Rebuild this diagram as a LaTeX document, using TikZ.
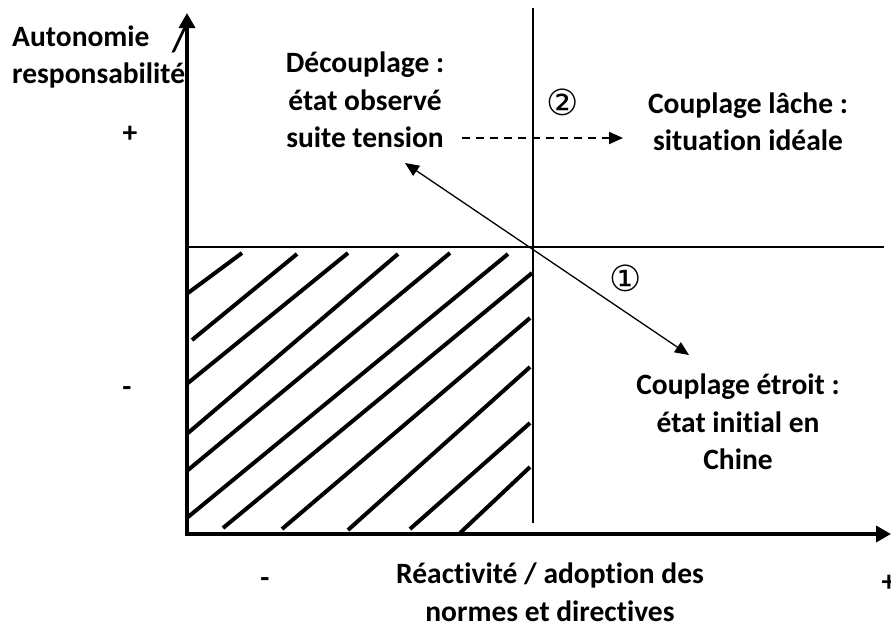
\documentclass[tikz,border=0pt]{standalone}
\usepackage{fontspec}
\setmainfont[Ligatures=NoCommon]{Carlito}
\newfontfamily\symfont{DejaVu Sans}
\usetikzlibrary{arrows.meta}
\tikzset{
  lbl/.style={font=\bfseries\fontsize{29.5}{37.5}\selectfont, inner sep=0pt, align=center},
  num/.style={font=\symfont\fontsize{36}{40}\selectfont, inner sep=0pt},
  axis/.style={line width=3.5pt, -{Triangle[length=15pt,width=16pt]}},
  thin/.style={line width=1.2pt},
  hatchline/.style={line width=4pt},
  movearrow/.style={line width=1.3pt, {Triangle[length=14pt,width=12pt]}-{Triangle[length=14pt,width=12pt]}},
  dasharrow/.style={line width=2pt, dash pattern=on 8pt off 6pt, -{Triangle[length=14pt,width=12pt]}}
}
\begin{document}
\begin{tikzpicture}[x=1pt,y=-1pt]
\useasboundingbox (0,0) rectangle (891,622);
% key points
\coordinate (yb) at (187,536);
\coordinate (yt) at (187,13);
\coordinate (xl) at (185,534);
\coordinate (xr) at (891,534);
\coordinate (vt) at (533,8);
\coordinate (vb) at (533,523);
\coordinate (hl) at (187,247);
\coordinate (hr) at (884,247);
\coordinate (a1) at (405,163);
\coordinate (a2) at (689,355);
\coordinate (d1) at (462,138);
\coordinate (d2) at (623,138);
% hatching
\foreach \xa/\ya/\xb/\yb in {188/293/242/253, 192/340/297/254, 188/383/348/253, 188/433/398/254, 188/470/450/253, 188/517/508/254, 223/528/532/273, 282/529/530/318, 348/530/530/367, 410/529/530/423, 460/533/530/467}
  \draw[hatchline] (\xa,\ya) -- (\xb,\yb);
% thin cross lines
\draw[thin] (vt) -- (vb);
\draw[thin] (hl) -- (hr);
% axes
\draw[axis] (yb) -- (yt);
\draw[axis] (xl) -- (xr);
% arrows
\draw[movearrow] (a1) -- (a2);
\draw[dasharrow] (d1) -- (d2);
% labels
\node[lbl, align=left, anchor=west] (ylab) at (12,57) {Autonomie\\responsabilité};
\node[lbl, font=\bfseries\fontsize{33}{37.5}\selectfont] (slash) at (179,41) {/};
\node[lbl] (yplus) at (130,134) {+};
\node[lbl] (yminus) at (127,392) {-};
\node[lbl] (dec) at (365,100) {Découplage :\\état observé\\suite tension};
\node[lbl] (lache) at (748,122) {Couplage lâche :\\situation idéale};
\node[lbl] (etroit) at (738,422) {Couplage étroit :\\état initial en\\Chine};
\node[lbl] (xlab) at (550,592) {Réactivité / adoption des\\normes et directives};
\node[lbl] (xminus) at (265,583) {-};
\node[lbl] (xplus) at (889,583) {+};
\node[num] (n2) at (563,102) {②};
\node[num] (n1) at (626,278) {①};
\end{tikzpicture}
\end{document}
